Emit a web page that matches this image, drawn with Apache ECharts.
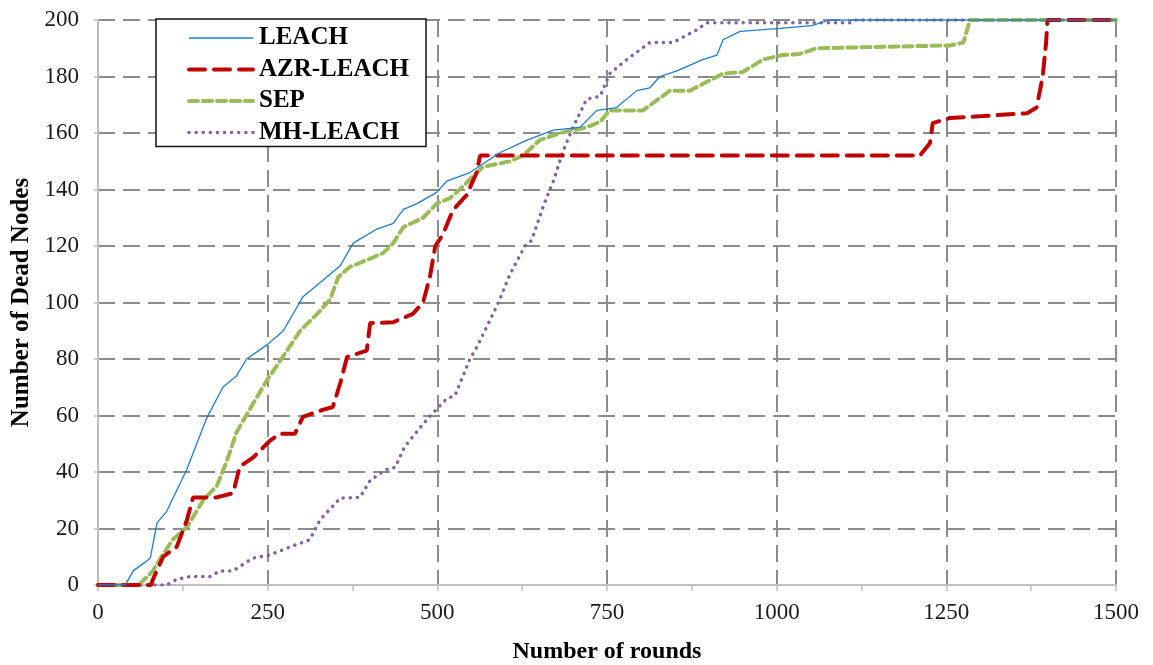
<!DOCTYPE html>
<html>
<head>
<meta charset="utf-8">
<script src="https://cdn.jsdelivr.net/npm/echarts@6/dist/echarts.min.js"></script>
<style>
  html, body { margin: 0; padding: 0; background: #fff; }
  #chart { width: 1153px; height: 665px; }
</style>
</head>
<body>
<div id="chart"></div>
<script>
// Dead nodes per round for each clustering protocol
const seriesNames = ['LEACH', 'AZR-LEACH', 'SEP', 'MH-LEACH'];

const leachRounds = [0, 40, 52, 77, 87, 101, 131, 160, 184, 204, 219, 249, 273, 302, 327, 357, 376, 411, 435, 450, 470, 499, 514, 548, 592, 632, 671, 710, 735, 764, 794, 813, 828, 853, 891, 912, 921, 946, 1005, 1052, 1078, 1500];
const leachDead   = [0, 0, 5, 9.5, 22, 26, 41, 59, 70, 74, 80, 85, 90, 102, 107, 113, 121, 126, 128, 133, 135, 139, 143, 146, 153, 157.5, 161, 162, 168, 169, 175, 176, 180, 182, 186, 187.6, 193, 196, 197, 198, 200, 200];

const azrRounds = [0, 78, 81, 96, 116, 131, 140, 175, 199, 209, 228, 253, 268, 290, 302, 331, 346, 357, 367, 396, 401, 435, 464, 479, 489, 497, 508, 523, 543, 558, 563, 1211, 1226, 1230, 1255, 1304, 1369, 1383, 1392, 1397, 1399, 1500];
const azrDead   = [0, 0, 2, 10, 13.5, 23, 31, 31, 32.5, 42, 45, 51, 53.5, 53.5, 59.5, 62, 63, 71.5, 80.7, 83, 92.7, 93, 96, 100, 109, 120, 124, 132.7, 138, 146, 152, 152, 156.5, 163.5, 165.3, 166, 167, 169, 180, 192, 200, 200];

const sepRounds = [0, 60, 62, 81, 96, 110, 131, 155, 175, 190, 204, 228, 249, 273, 298, 323, 342, 354, 371, 396, 420, 435, 450, 479, 499, 519, 533, 567, 607, 626, 651, 681, 720, 740, 754, 803, 843, 872, 921, 950, 980, 1009, 1034, 1059, 1255, 1275, 1285, 1500];
const sepDead   = [0, 0, 0.7, 5, 11, 16, 20.5, 30, 35, 44, 54, 64, 72.5, 81, 90, 96, 101, 109, 112.6, 115, 117.5, 121, 126.7, 130, 135, 137, 140, 148, 150, 152, 157.5, 160, 162, 164, 168, 168, 175, 175, 181, 181.6, 186, 187.6, 188, 190, 191, 192, 200, 200];

const mhRounds = [0, 101, 116, 136, 165, 180, 199, 228, 253, 283, 312, 327, 357, 386, 401, 423, 438, 452, 479, 494, 514, 526, 548, 560, 578, 592, 607, 629, 639, 656, 671, 686, 700, 720, 740, 754, 779, 813, 847, 882, 897, 1108, 1115, 1500];
const mhDead   = [0, 0, 2, 3, 3, 5, 5, 9.5, 10.6, 13.5, 16, 23, 30.8, 31, 37, 40.7, 41.7, 49, 57, 61, 66, 67, 80, 85, 94, 101, 110, 120, 122, 134, 143, 154, 162, 172, 173, 181, 186, 192, 192, 196.5, 199, 199, 200, 200];

const xTicks = { min: 0, max: 1500, interval: 250 };
const yTicks = { min: 0, max: 200, interval: 20 };

function pairs(xs, ys) {
  return xs.map((x, i) => [x, ys[i]]);
}

const serif = 'Liberation Serif, Times New Roman, serif';
const gridLine = { color: '#8c8c8c', width: 2, type: [17, 8] };
const axisStroke = { color: '#bfbfbf', width: 2 };

// line styles shared by the plotted series and their legend samples
const styles = {
  'LEACH':     { color: '#1f7ccc', width: 1.3, type: 'solid' },
  'AZR-LEACH': { color: '#c00000', width: 4, type: [16, 9], cap: 'round' },
  'SEP':       { color: '#9bbb59', width: 4, type: [9, 5], cap: 'round' },
  'MH-LEACH':  { color: '#8064a2', width: 3.5, type: [0.1, 7], cap: 'round' }
};
const seriesData = {
  'LEACH': pairs(leachRounds, leachDead),
  'AZR-LEACH': pairs(azrRounds, azrDead),
  'SEP': pairs(sepRounds, sepDead),
  'MH-LEACH': pairs(mhRounds, mhDead)
};

const chart = echarts.init(document.getElementById('chart'));
chart.setOption({
  animation: false,
  backgroundColor: '#ffffff',
  grid: { left: 98, right: 37, top: 20, bottom: 80, containLabel: false, outerBoundsMode: 'none' },
  legend: {
    orient: 'vertical',
    left: 156,
    top: 19,
    padding: [6, 17, 1, 31],
    itemGap: 5.5,
    itemWidth: 64,
    itemHeight: 14,
    backgroundColor: '#ffffff',
    borderColor: '#111111',
    borderWidth: 1.5,
    borderRadius: 0,
    data: seriesNames.map(n => ({ name: n, lineStyle: { width: styles[n].width, opacity: 1 } })),
    itemStyle: { opacity: 0 },
    textStyle: { fontFamily: serif, fontWeight: 'bold', fontSize: 25, lineHeight: 26, color: '#000', padding: [0, 0, 0, 1] }
  },
  xAxis: {
    type: 'value',
    min: xTicks.min, max: xTicks.max, interval: xTicks.interval,
    name: 'Number of rounds',
    nameLocation: 'middle',
    nameGap: 55,
    nameTextStyle: { fontFamily: serif, fontWeight: 'bold', fontSize: 24, color: '#000' },
    axisLine: { show: true, lineStyle: axisStroke },
    axisTick: { show: true, length: 6, lineStyle: { color: '#bfbfbf', width: 1.5 } },
    minorTick: { show: true, splitNumber: 2, length: 6, lineStyle: { color: '#bfbfbf', width: 1.5 } },
    axisLabel: { fontFamily: serif, fontSize: 23, color: '#1a1a1a', margin: 16, formatter: v => String(v) },
    splitLine: { show: true, lineStyle: gridLine }
  },
  yAxis: {
    type: 'value',
    min: yTicks.min, max: yTicks.max, interval: yTicks.interval,
    name: 'Number of Dead Nodes',
    nameLocation: 'middle',
    nameGap: 64,
    nameRotate: 90,
    nameTextStyle: { fontFamily: serif, fontWeight: 'bold', fontSize: 25, color: '#000' },
    axisLine: { show: true, lineStyle: axisStroke },
    axisTick: { show: true, length: 4, lineStyle: { color: '#bfbfbf', width: 1.5 } },
    axisLabel: { fontFamily: serif, fontSize: 23, color: '#1a1a1a', margin: 19 },
    splitLine: { show: true, lineStyle: gridLine }
  },
  series: seriesNames.map((n, i) => ({
    name: n,
    type: 'line',
    symbol: 'none',
    data: seriesData[n],
    z: 4 - i,
    itemStyle: { color: styles[n].color },
    lineStyle: styles[n]
  }))
});
</script>
</body>
</html>
